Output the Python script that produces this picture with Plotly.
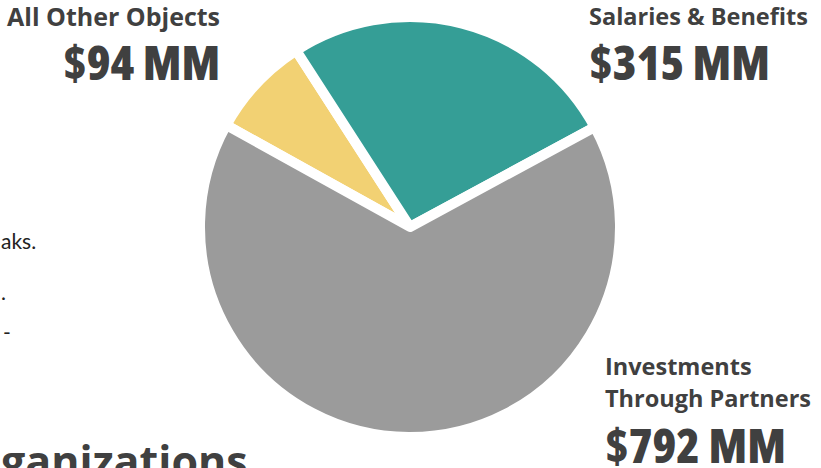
import plotly.graph_objects as go

W, H = 821, 468

# Spending categories (USD millions)
categories = ["All Other Objects", "Salaries & Benefits", "Investments Through Partners"]
amounts = [94, 315, 792]
colors = ["#F2D173", "#359E96", "#9B9B9B"]

TEXT = "#404040"
FONT = "Open Sans"


def px(x):
    return x / W


def py(y):
    return 1 - y / H


fig = go.Figure(
    go.Pie(
        labels=categories,
        values=amounts,
        sort=False,
        direction="clockwise",
        rotation=-61,
        marker=dict(colors=colors, line=dict(color="white", width=10)),
        textinfo="none",
        hoverinfo="label+value",
        showlegend=False,
        domain=dict(x=[px(200), px(620)], y=[py(437), py(17)]),
    )
)

ann = []


def add(text, x, y, size, xanchor, weight=700, color=TEXT, family=FONT):
    ann.append(dict(
        text=text,
        x=px(x), y=py(y), xref="paper", yref="paper",
        xanchor=xanchor, yanchor="middle", showarrow=False, borderpad=0,
        font=dict(size=size, family=family, color=color, weight=weight),
    ))


def total(v):
    # condensed heavy figure for the dollar totals
    return f'<span style="font-stretch:75%">${v} MM</span>'


# Category headings and totals
add(categories[0], 221, 16, 25, "right")
add(total(amounts[0]), 221, 62, 48, "right", weight=800)
add(categories[1], 588, 16, 23.5, "left")
add(total(amounts[1]), 588, 62, 48, "left", weight=800)
add("Investments", 604, 366, 23.5, "left")
add("Through Partners", 604, 398, 23.5, "left")
add(total(amounts[2]), 604, 444, 48, "left", weight=800)

# Slide body text running in from the left edge
add("aks.", 0, 241, 21, "left", weight=400, color="#222222", family="Lato")
add(".", 0, 291, 21, "left", weight=400, color="#222222", family="Lato")
add("-", 2, 331, 21, "left", weight=400, color="#222222", family="Lato")
add("ganizations", 0, 460, 43, "left")

fig.update_layout(
    width=W, height=H,
    margin=dict(l=0, r=0, t=0, b=0),
    paper_bgcolor="white", plot_bgcolor="white",
    annotations=ann,
)

fig.write_html("out.html")
